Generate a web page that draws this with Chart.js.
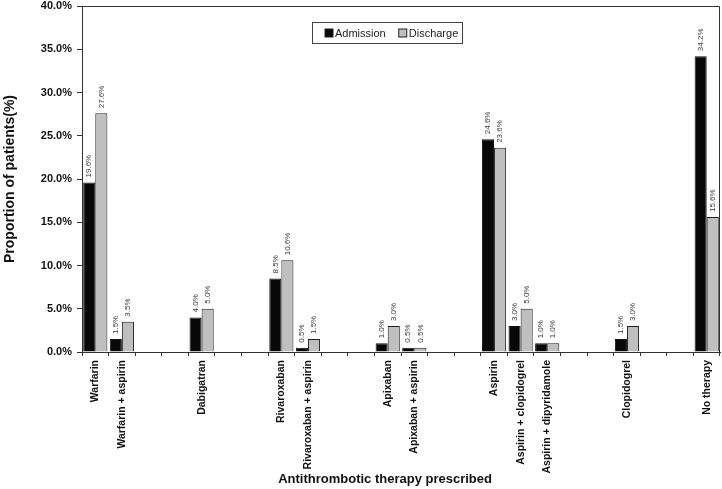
<!DOCTYPE html>
<html>
<head>
<meta charset="utf-8">
<script src="https://cdn.jsdelivr.net/npm/chart.js@4/dist/chart.umd.min.js"></script>
<style>
  body { margin: 0; background: #fff; }
  #wrap { width: 722px; height: 489px; }
</style>
</head>
<body>
<div id="wrap"><canvas id="therapy-chart"></canvas></div>
<script>
// empty slots ("") keep the gaps between the drug groups
const categories = [
  "Warfarin", "Warfarin + aspirin", "", "",
  "Dabigatran", "", "",
  "Rivaroxaban", "Rivaroxaban + aspirin", "", "",
  "Apixaban", "Apixaban + aspirin", "", "",
  "Aspirin", "Aspirin + clopidogrel", "Aspirin + dipyridamole", "", "",
  "Clopidogrel", "", "",
  "No therapy"
];
const admission = [
  19.6, 1.5, null, null,
  4.0, null, null,
  8.5, 0.5, null, null,
  1.0, 0.5, null, null,
  24.6, 3.0, 1.0, null, null,
  1.5, null, null,
  34.2
];
const discharge = [
  27.6, 3.5, null, null,
  5.0, null, null,
  10.6, 1.5, null, null,
  3.0, 0.5, null, null,
  23.6, 5.0, 1.0, null, null,
  3.0, null, null,
  15.6
];
const yTicks = [0, 5, 10, 15, 20, 25, 30, 35, 40];

const FONT = "'Liberation Sans', Arial, sans-serif";

// value labels standing upright above each bar
const barLabels = {
  id: "barLabels",
  afterDatasetsDraw(chart) {
    const ctx = chart.ctx;
    ctx.save();
    ctx.font = "8px " + FONT;
    ctx.fillStyle = "#3a3a3a";
    ctx.textAlign = "left";
    ctx.textBaseline = "middle";
    chart.data.datasets.forEach((ds, i) => {
      chart.getDatasetMeta(i).data.forEach((bar, j) => {
        const v = ds.data[j];
        if (v === null) return;
        ctx.save();
        ctx.translate(bar.x, bar.y - 5);
        ctx.rotate(-Math.PI / 2);
        ctx.fillText(v.toFixed(1) + "%", 0, 0);
        ctx.restore();
      });
    });
    ctx.restore();
  }
};

// top and right edges of the plot frame, plus the x title (sits a bit left of centre)
const frame = {
  id: "frame",
  afterDraw(chart) {
    const a = chart.chartArea;
    const ctx = chart.ctx;
    ctx.save();
    ctx.strokeStyle = "#333";
    ctx.lineWidth = 1;
    ctx.beginPath();
    ctx.moveTo(Math.round(a.left) + 0.5, Math.round(a.top) + 0.5);
    ctx.lineTo(Math.round(a.right) - 0.5, Math.round(a.top) + 0.5);
    ctx.lineTo(Math.round(a.right) - 0.5, Math.round(a.bottom) + 0.5);
    ctx.stroke();

    ctx.font = "bold 13px " + FONT;
    ctx.fillStyle = "#111";
    ctx.textAlign = "center";
    ctx.textBaseline = "middle";
    ctx.fillText("Antithrombotic therapy prescribed", a.left + (a.right - a.left) * 0.475, chart.height - 10);
    ctx.restore();
  }
};

// boxed legend sitting inside the plot
const boxLegend = {
  id: "boxLegend",
  afterDraw(chart) {
    const ctx = chart.ctx;
    const left = 312.5, top = 22.5, w = 150, h = 21;
    ctx.save();
    ctx.strokeStyle = "#444";
    ctx.lineWidth = 1;
    ctx.fillStyle = "#fff";
    ctx.fillRect(left, top, w, h);
    ctx.strokeRect(left, top, w, h);
    ctx.font = "11px " + FONT;
    ctx.textBaseline = "middle";
    ctx.textAlign = "left";
    let x = left + 12.5;
    const cy = top + h / 2;
    chart.data.datasets.forEach(ds => {
      ctx.fillStyle = ds.backgroundColor;
      ctx.fillRect(x, cy - 4, 8, 8);
      ctx.strokeStyle = "#222";
      ctx.strokeRect(x, cy - 4, 8, 8);
      ctx.fillStyle = "#222";
      ctx.fillText(ds.label, x + 10, cy + 0.5);
      x += 10 + ctx.measureText(ds.label).width + 13;
    });
    ctx.restore();
  }
};

const ctx = document.getElementById("therapy-chart").getContext("2d");

new Chart(ctx, {
  type: "bar",
  data: {
    labels: categories,
    datasets: [
      {
        label: "Admission",
        data: admission,
        backgroundColor: "#080808",
        borderColor: "#111",
        borderWidth: 1
      },
      {
        label: "Discharge",
        data: discharge,
        backgroundColor: "#bfbfbf",
        borderColor: "#1e1e1e",
        borderWidth: 1
      }
    ]
  },
  options: {
    responsive: true,
    maintainAspectRatio: false,
    animation: false,
    layout: { padding: { top: 6, right: 2, left: 0, bottom: 0 } },
    datasets: {
      bar: { categoryPercentage: 0.91, barPercentage: 1.0 }
    },
    plugins: {
      legend: { display: false },
      tooltip: { enabled: false }
    },
    scales: {
      x: {
        afterFit(scale) {
          scale.height = 137;
          scale.paddingLeft = 0;
          scale.paddingRight = 0;
        },
        grid: {
          offset: true,
          drawOnChartArea: false,
          drawTicks: true,
          tickLength: 4,
          color: "#333"
        },
        border: { color: "#333", width: 1 },
        ticks: {
          autoSkip: false,
          maxRotation: 90,
          minRotation: 90,
          padding: 4,
          color: "#111",
          font: { family: FONT, size: 10.5, weight: "bold" }
        }
      },
      y: {
        min: 0,
        max: 40,
        afterFit(scale) {
          scale.width = 82;
          scale.paddingTop = 0;
          scale.paddingBottom = 0;
        },
        afterBuildTicks(scale) {
          scale.ticks = yTicks.map(v => ({ value: v }));
        },
        grid: {
          drawOnChartArea: false,
          drawTicks: true,
          tickLength: 5,
          color: "#333"
        },
        border: { color: "#333", width: 1 },
        ticks: {
          padding: 5,
          color: "#111",
          font: { family: FONT, size: 11, weight: "bold" },
          callback: v => v.toFixed(1) + "%"
        },
        title: {
          display: true,
          text: "Proportion of patients(%)",
          color: "#111",
          padding: { top: 2, bottom: 0 },
          font: { family: FONT, size: 14, weight: "bold" }
        }
      }
    }
  },
  plugins: [barLabels, frame, boxLegend]
});
</script>
</body>
</html>
